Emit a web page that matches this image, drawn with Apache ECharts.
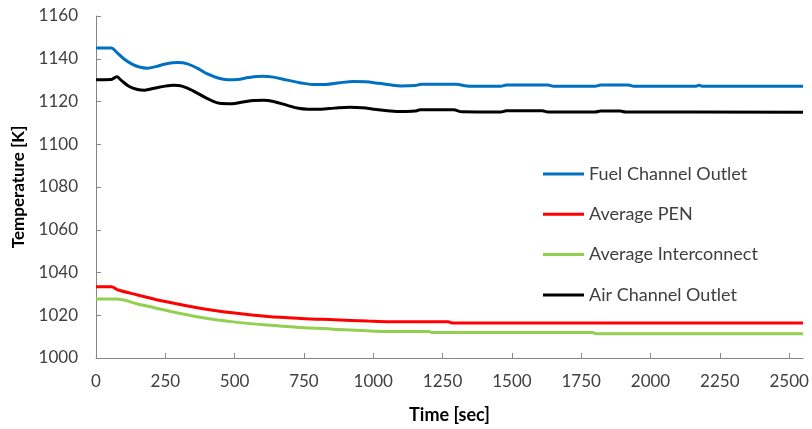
<!DOCTYPE html>
<html>
<head>
<meta charset="utf-8">
<script src="https://cdn.jsdelivr.net/npm/echarts@6/dist/echarts.min.js"></script>
<style>
  html, body { margin: 0; padding: 0; background: #fff; }
  #chart { width: 812px; height: 429px; }
</style>
</head>
<body>
<div id="chart"></div>
<script>
// Outlet and average temperatures during the transient [K] vs time [sec]
const fuelTime = [0, 55, 75, 100, 130, 160, 185, 215, 250, 295, 330, 365, 400, 440, 475, 510, 550, 600, 640, 690, 740, 790, 830, 880, 930, 970, 1020, 1060, 1100, 1150, 1175, 1300, 1330, 1360, 1460, 1480, 1630, 1650, 1800, 1820, 1920, 1940, 2160, 2175, 2190, 2550];
const fuelTemp = [1145, 1145, 1143, 1140, 1137.5, 1136, 1135.6, 1136.3, 1137.5, 1138.2, 1137.6, 1135.6, 1133, 1131, 1130.2, 1130.3, 1131.2, 1131.8, 1131.4, 1130, 1128.7, 1127.9, 1128, 1128.8, 1129.3, 1129.2, 1128.5, 1127.8, 1127.3, 1127.5, 1128.1, 1128.1, 1127.4, 1127.1, 1127.1, 1127.7, 1127.7, 1127.1, 1127.1, 1127.7, 1127.7, 1127.1, 1127.1, 1127.6, 1127.1, 1127.1];

const penTime = [0, 55, 80, 150, 250, 375, 500, 620, 740, 860, 980, 1050, 1270, 1285, 2550];
const penTemp = [1033.3, 1033.3, 1031.8, 1029.5, 1026.4, 1023.3, 1021, 1019.4, 1018.5, 1017.9, 1017.3, 1017, 1017, 1016.4, 1016.4];

const icTime = [0, 75, 150, 255, 375, 495, 616, 736, 856, 977, 1050, 1200, 1215, 1790, 1805, 2550];
const icTemp = [1027.6, 1027.6, 1025.3, 1022.2, 1019.1, 1016.9, 1015.4, 1014.3, 1013.5, 1012.7, 1012.4, 1012.4, 1011.9, 1011.9, 1011.3, 1011.3];

const airTime = [0, 55, 75, 90, 120, 150, 175, 210, 250, 280, 310, 350, 400, 445, 490, 530, 570, 605, 640, 690, 730, 765, 810, 860, 915, 960, 1010, 1060, 1100, 1150, 1170, 1290, 1320, 1460, 1480, 1610, 1630, 1800, 1820, 1890, 1910, 2550];
const airTemp = [1130.2, 1130.3, 1131.6, 1130, 1127, 1125.6, 1125.3, 1126.2, 1127.2, 1127.6, 1127.2, 1125, 1121.5, 1119.2, 1119, 1119.8, 1120.5, 1120.6, 1120, 1118.2, 1116.8, 1116.4, 1116.4, 1116.9, 1117.3, 1117.1, 1116.3, 1115.6, 1115.3, 1115.5, 1116.1, 1116.1, 1115.2, 1115.1, 1115.7, 1115.7, 1115.1, 1115.1, 1115.6, 1115.6, 1115.1, 1115];

const seriesNames = ['Fuel Channel Outlet', 'Average PEN', 'Average Interconnect', 'Air Channel Outlet'];
const seriesColors = ['#0070C0', '#FF0000', '#92D050', '#000000'];
const xTicks = [0, 250, 500, 750, 1000, 1250, 1500, 1750, 2000, 2250, 2500];
const yTicks = [1000, 1020, 1040, 1060, 1080, 1100, 1120, 1140, 1160];

const zip = (xs, ys) => xs.map((x, i) => [x, ys[i]]);
const seriesData = [zip(fuelTime, fuelTemp), zip(penTime, penTemp), zip(icTime, icTemp), zip(airTime, airTemp)];

const FONT = 'Lato';
const axisGray = '#868686';
const textGray = '#404040';

const chart = echarts.init(document.getElementById('chart'), null, { renderer: 'canvas' });
chart.setOption({
  animation: false,
  backgroundColor: '#ffffff',
  grid: { left: 96, right: 9, top: 16, bottom: 70, containLabel: false },
  legend: {
    orient: 'vertical',
    left: 543,
    top: 164,
    padding: 0,
    icon: 'rect',
    itemWidth: 41,
    itemHeight: 3,
    itemGap: 20.3,
    data: seriesNames,
    textStyle: { fontFamily: FONT, fontSize: 18, color: textGray, lineHeight: 20 }
  },
  xAxis: {
    type: 'value',
    min: 0,
    max: 2550,
    interval: 250,
    name: 'Time [sec]',
    nameLocation: 'middle',
    nameGap: 48,
    nameTextStyle: { fontFamily: FONT, fontSize: 18, fontWeight: 'bold', color: '#000' },
    axisLine: { show: true, lineStyle: { color: axisGray, width: 1 } },
    axisTick: { show: true, inside: true, length: 5, lineStyle: { color: axisGray } },
    splitLine: { show: false },
    axisLabel: {
      margin: 15,
      fontFamily: FONT, fontSize: 17, color: textGray,
      showMaxLabel: false,
      formatter: v => (xTicks.includes(v) ? String(v) : '')
    }
  },
  yAxis: {
    type: 'value',
    min: 1000,
    max: 1160,
    interval: 20,
    name: 'Temperature [K]',
    nameLocation: 'middle',
    nameGap: 69,
    nameTextStyle: { fontFamily: FONT, fontSize: 17, fontWeight: 'bold', color: '#000' },
    axisLine: { show: true, lineStyle: { color: axisGray, width: 1 } },
    axisTick: { show: true, inside: true, length: 5, lineStyle: { color: axisGray } },
    splitLine: { show: false },
    axisLabel: {
      margin: 18,
      fontFamily: FONT, fontSize: 17, color: textGray,
      formatter: v => (yTicks.includes(v) ? String(v) : '')
    }
  },
  series: seriesNames.map((name, i) => ({
    name,
    type: 'line',
    data: seriesData[i],
    symbol: 'none',
    showSymbol: false,
    smooth: 0.35,
    color: seriesColors[i],
    lineStyle: { color: seriesColors[i], width: 3 },
    z: i === 0 ? 3 : 2
  }))
});
</script>
</body>
</html>
